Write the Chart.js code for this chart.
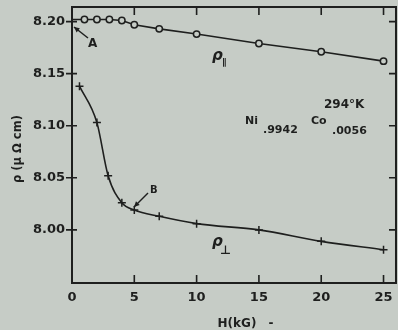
<!DOCTYPE html>
<html>
<head>
<meta charset="utf-8">
<script src="https://cdn.jsdelivr.net/npm/chart.js@4.4.1/dist/chart.umd.min.js"></script>
<style>
  html, body { margin: 0; padding: 0; background: #c6ccc6; }
  #c { display: block; }
</style>
</head>
<body>
<canvas id="c" width="398" height="330"></canvas>
<script>
// ---- data ----
const parallelH   = [0, 1, 2, 3, 4, 5, 7, 10, 15, 20, 25];
const parallelRho = [8.202, 8.202, 8.202, 8.202, 8.201, 8.197, 8.193, 8.188, 8.179, 8.171, 8.162];
const perpH   = [0.6, 2, 2.9, 4, 5, 7, 10, 15, 20, 25];
const perpRho = [8.138, 8.103, 8.052, 8.026, 8.019, 8.013, 8.006, 8.000, 7.989, 7.981];
const xTickValues = [0, 5, 10, 15, 20, 25];
const yTickValues = [8.00, 8.05, 8.10, 8.15, 8.20];
const xFrameEnd = 26;   // right edge of the plot frame, in kG

const INK = '#1e1f1e';
const BG = '#c6ccc6';
const FONT = 'DejaVu Sans';

const notes = {
  id: 'notes',
  afterDraw(chart) {
    const ctx = chart.ctx;
    const a = chart.chartArea;
    const xs = chart.scales.x, ys = chart.scales.y;
    const right = xs.getPixelForValue(xFrameEnd);
    ctx.save();
    ctx.strokeStyle = INK;
    ctx.fillStyle = INK;
    ctx.lineWidth = 2;
    // frame
    ctx.strokeRect(a.left, a.top, right - a.left, a.bottom - a.top);
    // ticks
    ctx.lineWidth = 1.6;
    ctx.beginPath();
    yTickValues.forEach(v => {
      const y = ys.getPixelForValue(v);
      ctx.moveTo(a.left - 6, y); ctx.lineTo(a.left + 5, y);
      ctx.moveTo(right - 7, y); ctx.lineTo(right, y);
    });
    xTickValues.forEach(v => {
      if (v === 0) return;
      const x = xs.getPixelForValue(v);
      ctx.moveTo(x, a.bottom); ctx.lineTo(x, a.bottom - 8);
      ctx.moveTo(x, a.top); ctx.lineTo(x, a.top + 8);
    });
    ctx.stroke();

    // axis titles
    ctx.textBaseline = 'alphabetic';
    ctx.font = 'bold 12px ' + FONT;
    ctx.textAlign = 'center';
    ctx.fillText('H(kG)', 237, 327);
    ctx.fillText('-', 271, 327);
    ctx.save();
    ctx.translate(21, 149);
    ctx.rotate(-Math.PI / 2);
    ctx.font = 'bold 11.5px ' + FONT;
    ctx.fillText('\u03C1 (\u03BC \u03A9 cm)', 0, 0);
    ctx.restore();

    // curve labels
    ctx.textAlign = 'left';
    ctx.font = 'italic bold 15px ' + FONT;
    ctx.fillText('\u03C1', 212, 60);
    ctx.fillText('\u03C1', 212, 246);
    ctx.font = 'bold 9px ' + FONT;
    ctx.fillText('\u2225', 222, 65);
    ctx.font = 'bold 12px ' + FONT;
    ctx.fillText('\u22A5', 220, 254);

    // sample description
    ctx.font = 'bold 12px ' + FONT;
    ctx.fillText('294\u00B0K', 324, 108);
    ctx.font = 'bold 11px ' + FONT;
    ctx.fillText('Ni', 245, 124);
    ctx.fillText('Co', 311, 124);
    ctx.fillText('.9942', 263, 133);
    ctx.fillText('.0056', 332, 134);

    // A and B markers
    ctx.font = 'bold 12px ' + FONT;
    ctx.fillText('A', 88, 47);
    ctx.font = 'bold 10px ' + FONT;
    ctx.fillText('B', 150, 193);
    const arrow = (x1, y1, x2, y2) => {
      ctx.lineWidth = 1.5;
      ctx.beginPath(); ctx.moveTo(x1, y1); ctx.lineTo(x2, y2); ctx.stroke();
      const ang = Math.atan2(y2 - y1, x2 - x1), L = 6, W = 0.45;
      ctx.beginPath();
      ctx.moveTo(x2, y2);
      ctx.lineTo(x2 - L * Math.cos(ang - W), y2 - L * Math.sin(ang - W));
      ctx.lineTo(x2 - L * Math.cos(ang + W), y2 - L * Math.sin(ang + W));
      ctx.closePath(); ctx.fill();
    };
    arrow(88, 38, 74, 27);
    arrow(148, 193, 134, 207);
    ctx.restore();
  }
};

new Chart(document.getElementById('c'), {
  type: 'line',
  data: {
    datasets: [
      {
        label: 'rho parallel',
        data: parallelH.map((h, i) => ({ x: h, y: parallelRho[i] })),
        borderColor: INK,
        borderWidth: 1.6,
        pointStyle: 'circle',
        pointRadius: parallelH.map(h => h === 0 ? 0 : 3.2),
        pointBorderWidth: 1.5,
        pointBorderColor: INK,
        pointBackgroundColor: BG,
        tension: 0,
        clip: false
      },
      {
        label: 'rho perpendicular',
        data: perpH.map((h, i) => ({ x: h, y: perpRho[i] })),
        borderColor: INK,
        borderWidth: 1.6,
        pointStyle: 'cross',
        pointRadius: 4,
        pointBorderWidth: 1.5,
        pointBorderColor: INK,
        cubicInterpolationMode: 'monotone',
        clip: false
      }
    ]
  },
  options: {
    responsive: false,
    devicePixelRatio: 1,
    animation: false,
    layout: { padding: { top: 7, right: 2, left: 0, bottom: 0 } },
    plugins: { legend: { display: false }, tooltip: { enabled: false } },
    scales: {
      x: {
        type: 'linear',
        min: 0, max: 25.72,
        afterBuildTicks: s => { s.ticks = xTickValues.map(v => ({ value: v })); },
        afterFit: s => { s.height = 47; s.paddingLeft = 0; s.paddingRight = 0; },
        grid: { display: false, drawTicks: false },
        border: { display: false },
        ticks: { color: INK, font: { family: FONT, size: 13, weight: 'bold' }, padding: 7, maxRotation: 0, autoSkip: false }
      },
      y: {
        type: 'linear',
        min: 7.949, max: 8.214,
        afterBuildTicks: s => { s.ticks = yTickValues.map(v => ({ value: v })); },
        afterFit: s => { s.width = 72; s.paddingTop = 0; s.paddingBottom = 0; },
        grid: { display: false, drawTicks: false },
        border: { display: false },
        ticks: { color: INK, font: { family: FONT, size: 13, weight: 'bold' }, padding: 7, callback: v => v.toFixed(2) }
      }
    }
  },
  plugins: [notes]
});
</script>
</body>
</html>
